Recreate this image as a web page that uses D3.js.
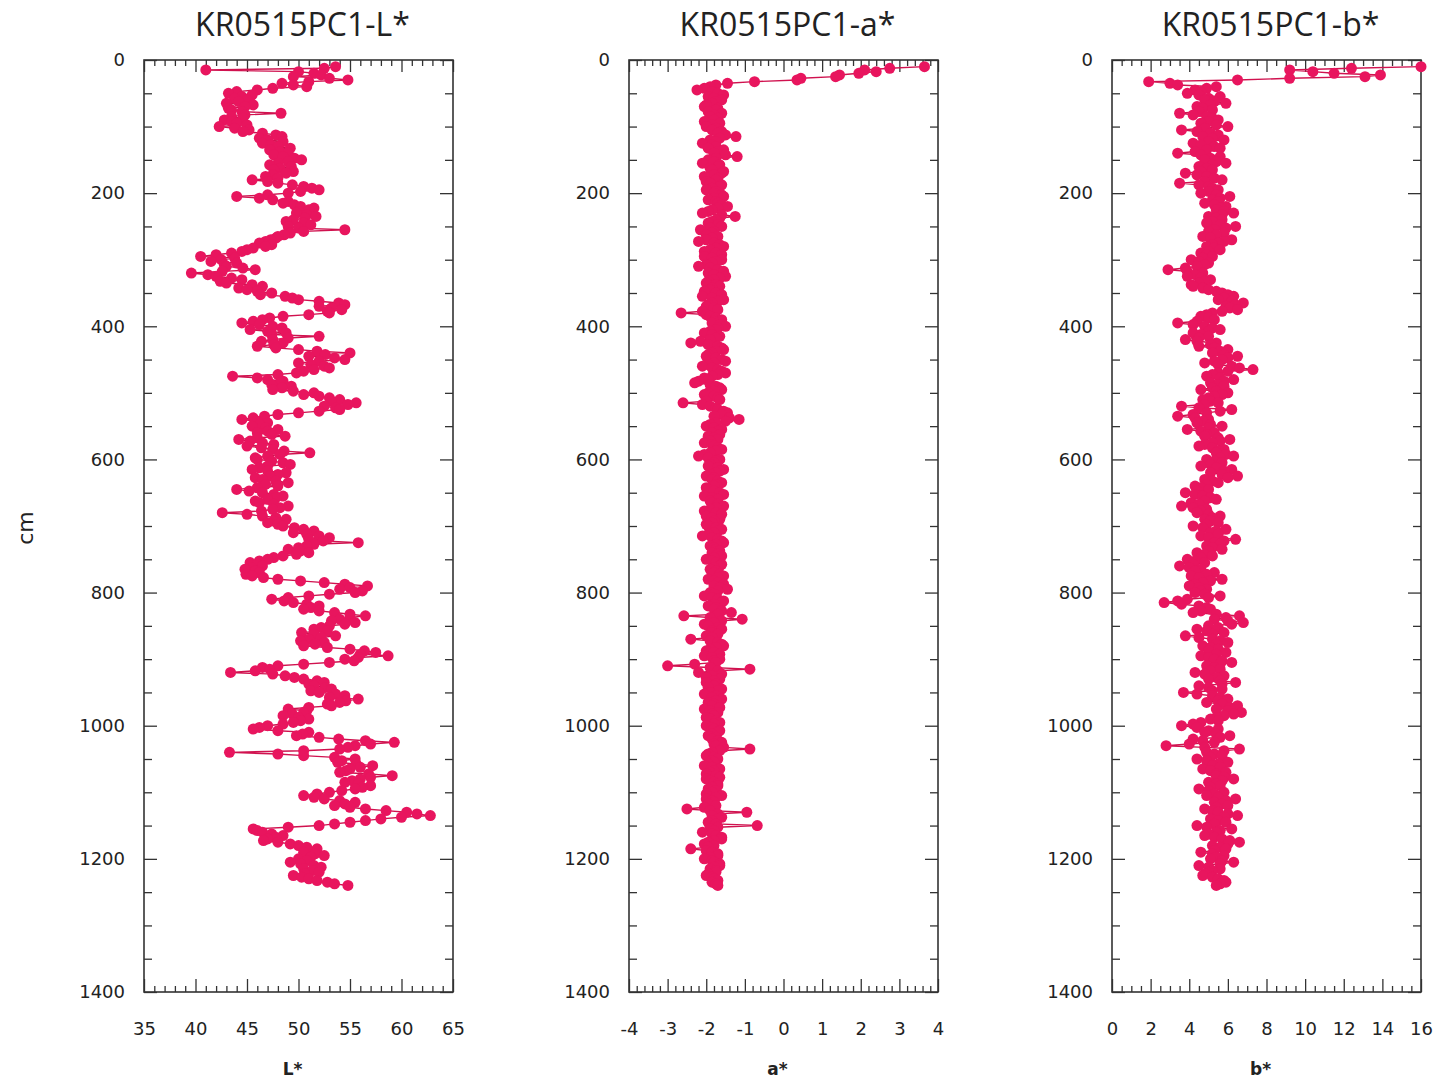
<!DOCTYPE html>
<html>
<head>
<meta charset="utf-8">
<script src="https://cdn.jsdelivr.net/npm/d3@7"></script>
<style>
  body { margin: 0; background: #fff; }
  svg { display: block; }
</style>
</head>
<body>
<svg id="chart" width="1441" height="1080"></svg>
<script>
// Core KR0515PC1: sample depths (cm, 2.5 cm spacing) and colour reflectance (CIE L*, a*, b*)
const depthCm = [
  10, 12.5, 15, 17.5, 20, 22.5, 25, 27.5, 30, 32.5, 35, 37.5, 40, 42.5, 45, 47.5, 50, 52.5, 55, 57.5,
  60, 62.5, 65, 67.5, 70, 72.5, 75, 77.5, 80, 82.5, 85, 87.5, 90, 92.5, 95, 97.5, 100, 102.5, 105, 107.5,
  110, 112.5, 115, 117.5, 120, 122.5, 125, 127.5, 130, 132.5, 135, 137.5, 140, 142.5, 145, 147.5, 150, 152.5, 155, 157.5,
  160, 162.5, 165, 167.5, 170, 172.5, 175, 177.5, 180, 182.5, 185, 187.5, 190, 192.5, 195, 197.5, 200, 202.5, 205, 207.5,
  210, 212.5, 215, 217.5, 220, 222.5, 225, 227.5, 230, 232.5, 235, 237.5, 240, 242.5, 245, 247.5, 250, 252.5, 255, 257.5,
  260, 262.5, 265, 267.5, 270, 272.5, 275, 277.5, 280, 282.5, 285, 287.5, 290, 292.5, 295, 297.5, 300, 302.5, 305, 307.5,
  310, 312.5, 315, 317.5, 320, 322.5, 325, 327.5, 330, 332.5, 335, 337.5, 340, 342.5, 345, 347.5, 350, 352.5, 355, 357.5,
  360, 362.5, 365, 367.5, 370, 372.5, 375, 377.5, 380, 382.5, 385, 387.5, 390, 392.5, 395, 397.5, 400, 402.5, 405, 407.5,
  410, 412.5, 415, 417.5, 420, 422.5, 425, 427.5, 430, 432.5, 435, 437.5, 440, 442.5, 445, 447.5, 450, 452.5, 455, 457.5,
  460, 462.5, 465, 467.5, 470, 472.5, 475, 477.5, 480, 482.5, 485, 487.5, 490, 492.5, 495, 497.5, 500, 502.5, 505, 507.5,
  510, 512.5, 515, 517.5, 520, 522.5, 525, 527.5, 530, 532.5, 535, 537.5, 540, 542.5, 545, 547.5, 550, 552.5, 555, 557.5,
  560, 562.5, 565, 567.5, 570, 572.5, 575, 577.5, 580, 582.5, 585, 587.5, 590, 592.5, 595, 597.5, 600, 602.5, 605, 607.5,
  610, 612.5, 615, 617.5, 620, 622.5, 625, 627.5, 630, 632.5, 635, 637.5, 640, 642.5, 645, 647.5, 650, 652.5, 655, 657.5,
  660, 662.5, 665, 667.5, 670, 672.5, 675, 677.5, 680, 682.5, 685, 687.5, 690, 692.5, 695, 697.5, 700, 702.5, 705, 707.5,
  710, 712.5, 715, 717.5, 720, 722.5, 725, 727.5, 730, 732.5, 735, 737.5, 740, 742.5, 745, 747.5, 750, 752.5, 755, 757.5,
  760, 762.5, 765, 767.5, 770, 772.5, 775, 777.5, 780, 782.5, 785, 787.5, 790, 792.5, 795, 797.5, 800, 802.5, 805, 807.5,
  810, 812.5, 815, 817.5, 820, 822.5, 825, 827.5, 830, 832.5, 835, 837.5, 840, 842.5, 845, 847.5, 850, 852.5, 855, 857.5,
  860, 862.5, 865, 867.5, 870, 872.5, 875, 877.5, 880, 882.5, 885, 887.5, 890, 892.5, 895, 897.5, 900, 902.5, 905, 907.5,
  910, 912.5, 915, 917.5, 920, 922.5, 925, 927.5, 930, 932.5, 935, 937.5, 940, 942.5, 945, 947.5, 950, 952.5, 955, 957.5,
  960, 962.5, 965, 967.5, 970, 972.5, 975, 977.5, 980, 982.5, 985, 987.5, 990, 992.5, 995, 997.5, 1000, 1002.5, 1005, 1007.5,
  1010, 1012.5, 1015, 1017.5, 1020, 1022.5, 1025, 1027.5, 1030, 1032.5, 1035, 1037.5, 1040, 1042.5, 1045, 1047.5, 1050, 1052.5, 1055, 1057.5,
  1060, 1062.5, 1065, 1067.5, 1070, 1072.5, 1075, 1077.5, 1080, 1082.5, 1085, 1087.5, 1090, 1092.5, 1095, 1097.5, 1100, 1102.5, 1105, 1107.5,
  1110, 1112.5, 1115, 1117.5, 1120, 1122.5, 1125, 1127.5, 1130, 1132.5, 1135, 1137.5, 1140, 1142.5, 1145, 1147.5, 1150, 1152.5, 1155, 1157.5,
  1160, 1162.5, 1165, 1167.5, 1170, 1172.5, 1175, 1177.5, 1180, 1182.5, 1185, 1187.5, 1190, 1192.5, 1195, 1197.5, 1200, 1202.5, 1205, 1207.5,
  1210, 1212.5, 1215, 1217.5, 1220, 1222.5, 1225, 1227.5, 1230, 1232.5, 1235, 1237.5, 1240
];

const lightness = [
  53.6, 52.5, 41.0, 50.0, 51.5, 52.2, 49.5, 53.0, 54.8, 51.0, 48.4, 49.5, 50.8, 47.5, 46.0, 44.0, 43.2, 45.5, 44.5, 43.8,
  45.0, 44.2, 43.0, 45.6, 44.8, 43.2, 43.5, 44.5, 48.3, 44.8, 43.5, 44.6, 42.8, 43.5, 44.0, 45.0, 42.3, 43.8, 45.2, 44.6,
  46.5, 47.8, 48.4, 46.2, 47.0, 48.5, 46.5, 47.3, 48.0, 49.2, 47.2, 48.2, 49.0, 47.6, 48.5, 49.6, 50.3, 49.0, 48.0, 47.2,
  49.3, 48.2, 47.6, 49.5, 48.8, 47.5, 46.8, 48.0, 45.5, 47.0, 48.0, 49.4, 50.5, 51.3, 52.0, 50.2, 49.0, 47.0, 44.0, 46.2,
  47.5, 49.0, 48.5, 49.6, 50.2, 51.5, 51.0, 50.0, 49.8, 50.8, 51.7, 50.6, 49.5, 48.8, 50.5, 51.2, 49.0, 50.0, 54.5, 50.5,
  49.2, 48.6, 48.0, 47.8, 47.3, 46.8, 46.2, 47.4, 46.8, 45.6, 45.0, 44.5, 43.5, 42.0, 40.5, 43.8, 42.5, 41.5, 44.0, 42.8,
  43.0, 44.6, 45.8, 42.6, 39.6, 41.2, 42.0, 43.5, 44.5, 42.4, 43.0, 45.5, 46.5, 44.2, 45.0, 46.0, 47.4, 46.3, 48.7, 49.4,
  50.0, 52.0, 53.9, 54.5, 52.0, 53.2, 54.2, 52.8, 53.0, 51.0, 48.5, 47.2, 46.5, 45.6, 44.5, 46.2, 47.5, 48.4, 45.3, 47.0,
  48.8, 47.4, 52.0, 49.0, 47.5, 46.4, 48.5, 47.6, 46.0, 47.8, 50.0, 51.8, 55.0, 52.6, 51.0, 53.5, 54.5, 52.0, 50.0, 51.2,
  52.5, 53.0, 51.5, 50.5, 49.8, 48.0, 43.6, 46.0, 47.0, 48.5, 48.2, 47.4, 49.3, 48.4, 47.5, 49.5, 51.5, 50.5, 52.0, 53.0,
  54.0, 53.2, 55.6, 54.8, 52.5, 53.6, 54.0, 52.0, 50.0, 48.0, 46.7, 45.6, 44.5, 46.0, 47.0, 46.2, 45.5, 46.8, 48.0, 47.0,
  46.0, 47.4, 48.7, 46.0, 44.2, 45.3, 46.5, 47.6, 45.0, 46.4, 47.5, 48.6, 51.1, 48.2, 47.0, 45.8, 46.0, 47.4, 48.5, 49.2,
  47.0, 46.2, 45.5, 47.0, 48.8, 48.0, 47.2, 45.8, 46.5, 47.8, 49.0, 46.8, 48.0, 46.0, 44.0, 45.2, 46.5, 47.6, 48.5, 47.8,
  47.0, 45.8, 46.2, 47.6, 49.0, 48.2, 47.5, 46.4, 42.6, 45.0, 46.5, 47.8, 48.8, 47.6, 47.0, 48.0, 48.5, 49.6, 50.5, 51.5,
  49.5, 50.8, 52.0, 53.0, 51.0, 52.4, 55.8, 51.5, 50.8, 50.0, 49.0, 50.2, 51.0, 49.8, 48.5, 47.6, 47.0, 46.2, 45.3, 46.0,
  46.5, 45.4, 44.8, 45.8, 46.2, 44.9, 45.5, 46.6, 48.0, 50.2, 52.5, 54.5, 56.7, 55.0, 54.0, 56.2, 55.5, 53.0, 51.0, 49.0,
  47.4, 48.6, 49.5, 50.8, 52.0, 51.2, 50.5, 52.0, 53.5, 55.0, 56.5, 55.0, 54.0, 53.2, 55.5, 54.5, 53.0, 52.2, 51.5, 52.8,
  50.3, 51.5, 53.6, 52.2, 51.0, 50.2, 52.5, 51.6, 50.5, 52.8, 55.0, 56.4, 57.5, 56.0, 58.7, 55.8, 54.5, 55.4, 53.0, 50.5,
  48.0, 46.5, 47.2, 45.8, 43.4, 47.5, 48.7, 49.6, 50.5, 51.8, 52.5, 51.0, 51.5, 52.6, 53.2, 51.2, 52.0, 53.6, 54.5, 53.0,
  55.8, 54.6, 54.0, 52.8, 53.2, 51.0, 49.0, 50.8, 50.5, 49.4, 48.5, 50.0, 51.0, 50.2, 49.5, 48.5, 47.0, 46.2, 45.6, 48.0,
  51.0, 50.4, 49.8, 52.0, 53.9, 56.5, 59.3, 57.0, 55.5, 54.8, 54.0, 50.5, 43.3, 48.0, 50.5, 53.5, 55.5, 54.2, 53.8, 55.6,
  57.2, 56.0, 55.0, 54.6, 54.0, 56.8, 59.1, 57.0, 56.0, 55.2, 54.5, 55.8, 57.0, 56.2, 55.5, 54.2, 53.0, 51.8, 50.5, 51.5,
  52.5, 54.0, 55.5, 54.5, 53.5, 55.0, 56.5, 58.5, 60.5, 61.5, 62.8, 60.0, 58.0, 56.5, 55.0, 53.5, 52.0, 49.0, 45.6, 46.0,
  46.5, 47.4, 48.5, 47.8, 47.0, 46.6, 48.0, 49.2, 50.0, 50.8, 51.8, 51.0, 50.5, 51.6, 52.5, 51.2, 50.0, 50.8, 49.2, 50.2,
  51.5, 52.2, 50.5, 51.4, 52.0, 50.6, 49.5, 50.3, 51.0, 51.8, 52.8, 53.5, 54.8
];

const redGreen = [
  3.65, 2.75, 2.10, 2.40, 1.95, 1.45, 1.35, 0.45, 0.35, -0.75, -1.45, -1.75, -1.90, -2.05, -2.24, -1.85, -1.70, -1.55, -1.95, -1.80,
  -1.60, -1.75, -1.85, -2.00, -2.05, -1.70, -1.75, -1.95, -1.60, -1.80, -1.90, -1.70, -1.80, -2.05, -1.65, -1.85, -2.00, -1.75, -1.85, -1.60,
  -1.70, -1.50, -1.23, -1.65, -1.90, -1.75, -2.10, -1.85, -1.75, -1.95, -1.55, -1.70, -1.80, -1.50, -1.20, -1.75, -1.95, -1.80, -2.10, -1.65,
  -1.70, -1.90, -1.85, -1.55, -1.60, -1.80, -2.05, -1.70, -1.75, -2.00, -1.90, -1.60, -1.65, -1.85, -2.00, -1.75, -1.80, -1.60, -1.55, -1.80,
  -1.95, -1.75, -1.70, -1.60, -1.45, -1.70, -1.85, -1.95, -2.10, -1.60, -1.25, -1.65, -1.75, -1.85, -1.95, -1.70, -1.60, -1.90, -2.15, -1.80,
  -1.85, -2.00, -1.70, -1.85, -2.00, -2.20, -1.80, -1.65, -1.55, -1.75, -1.90, -2.05, -1.75, -1.60, -2.05, -1.85, -1.60, -1.75, -1.85, -2.00,
  -2.20, -1.90, -1.70, -1.55, -1.95, -1.80, -1.50, -1.65, -1.80, -1.95, -2.00, -1.75, -1.65, -1.85, -1.90, -2.05, -1.75, -1.60, -2.10, -1.85,
  -1.55, -1.70, -1.85, -1.95, -2.00, -1.80, -1.70, -2.10, -2.65, -2.00, -1.90, -1.75, -1.60, -1.80, -1.85, -1.65, -1.50, -1.70, -1.75, -1.90,
  -2.05, -1.85, -1.65, -1.75, -1.90, -2.15, -2.40, -1.95, -1.70, -1.60, -1.55, -1.75, -1.85, -1.95, -2.00, -1.75, -1.60, -1.50, -1.80, -1.95,
  -2.10, -1.85, -1.70, -1.60, -1.50, -1.70, -1.85, -2.05, -1.95, -2.20, -2.30, -1.90, -1.75, -1.65, -1.60, -1.80, -1.95, -2.05, -1.80, -1.70,
  -1.65, -2.00, -2.60, -2.10, -1.90, -1.75, -1.70, -1.55, -1.45, -1.60, -1.80, -1.40, -1.15, -1.50, -1.75, -1.90, -2.00, -1.80, -1.60, -1.70,
  -1.85, -1.65, -1.95, -1.80, -1.70, -1.90, -2.05, -1.85, -1.80, -1.70, -1.60, -1.75, -1.90, -2.05, -2.20, -1.95, -1.65, -1.75, -1.80, -1.90,
  -1.95, -1.70, -1.55, -1.65, -1.75, -1.90, -2.00, -1.80, -1.85, -1.70, -1.60, -1.75, -1.80, -2.00, -1.95, -1.80, -1.65, -1.55, -2.05, -1.85,
  -1.70, -1.90, -1.85, -1.70, -1.55, -1.75, -1.90, -2.05, -1.75, -1.60, -2.00, -1.85, -1.65, -1.80, -1.85, -2.00, -1.95, -1.75, -1.60, -1.70,
  -1.80, -1.95, -2.10, -1.85, -1.70, -1.60, -1.55, -1.75, -1.90, -1.80, -1.75, -1.65, -1.85, -1.70, -1.60, -1.80, -2.00, -1.85, -1.75, -1.60,
  -1.65, -1.80, -1.90, -1.75, -1.80, -1.65, -1.55, -1.70, -1.95, -1.80, -1.70, -1.55, -1.80, -1.65, -1.45, -1.70, -1.90, -1.80, -2.05, -1.85,
  -1.70, -1.55, -1.60, -1.80, -1.95, -1.75, -1.80, -1.60, -1.35, -1.70, -2.58, -1.90, -1.07, -1.60, -1.80, -2.05, -1.95, -1.70, -1.60, -1.85,
  -1.85, -1.70, -2.00, -1.85, -2.40, -1.90, -1.70, -1.60, -1.55, -1.75, -1.90, -2.00, -1.80, -1.65, -2.05, -1.85, -1.65, -1.80, -1.75, -2.30,
  -3.00, -1.90, -0.87, -1.70, -2.20, -1.60, -1.85, -2.00, -1.65, -1.80, -2.00, -1.75, -1.80, -1.95, -1.60, -1.70, -1.90, -2.05, -1.75, -1.85,
  -1.60, -1.75, -1.95, -1.80, -1.85, -1.65, -2.05, -1.90, -1.70, -1.85, -1.80, -2.00, -1.90, -1.75, -1.65, -1.80, -2.00, -1.85, -1.80, -1.65,
  -1.70, -1.85, -1.95, -1.75, -1.85, -1.70, -1.60, -1.80, -1.75, -1.55, -0.87, -1.65, -1.85, -1.95, -2.00, -1.80, -1.70, -1.85, -1.80, -1.95,
  -2.05, -1.85, -1.65, -1.80, -1.90, -2.00, -1.75, -1.65, -2.00, -1.90, -1.80, -1.70, -1.70, -1.85, -1.95, -1.75, -1.85, -2.00, -1.60, -1.75,
  -2.00, -1.85, -1.80, -1.95, -1.75, -2.05, -2.50, -1.90, -0.95, -1.70, -1.85, -1.60, -1.70, -1.85, -1.95, -1.75, -0.68, -1.70, -1.90, -1.80,
  -2.10, -1.85, -1.75, -1.60, -1.60, -1.80, -1.95, -2.05, -1.80, -1.95, -2.40, -2.00, -1.85, -1.70, -1.70, -1.90, -2.05, -1.85, -1.80, -1.65,
  -1.65, -1.80, -1.90, -1.75, -1.75, -1.95, -2.00, -1.85, -1.80, -1.70, -1.85, -1.75, -1.70
];

const yellowBlue = [
  16.0, 12.4, 9.2, 10.4, 11.5, 13.9, 13.1, 9.2, 6.5, 1.9, 3.0, 3.4, 5.4, 4.9, 4.3, 4.6, 3.9, 4.5, 5.6, 5.0,
  4.8, 5.3, 5.9, 5.1, 4.4, 4.7, 5.2, 4.5, 3.5, 4.2, 4.9, 5.2, 5.5, 5.0, 4.6, 5.4, 6.0, 4.8, 3.6, 4.4,
  5.1, 5.5, 4.7, 5.2, 5.8, 5.0, 4.2, 4.6, 5.3, 5.6, 4.9, 4.3, 3.4, 4.6, 5.6, 5.1, 4.8, 5.4, 5.9, 5.2,
  4.5, 4.9, 5.2, 4.6, 3.8, 4.4, 4.9, 5.3, 5.7, 4.8, 3.5, 4.5, 5.0, 5.2, 5.5, 5.0, 4.6, 5.4, 6.1, 5.6,
  5.2, 5.5, 4.8, 5.3, 5.9, 5.6, 5.4, 5.8, 6.3, 5.7, 5.0, 5.4, 5.7, 5.2, 4.9, 5.6, 6.4, 5.9, 5.3, 5.0,
  5.8, 5.4, 4.7, 5.1, 6.2, 5.8, 5.5, 5.2, 4.9, 5.3, 5.6, 5.0, 4.6, 4.9, 5.2, 4.7, 4.1, 4.5, 5.0, 4.8,
  4.4, 3.8, 2.9, 3.9, 4.7, 4.3, 3.9, 4.6, 5.1, 4.8, 4.5, 4.1, 4.2, 4.7, 5.0, 5.4, 5.7, 6.0, 6.3, 5.8,
  5.5, 6.2, 6.8, 6.4, 5.9, 6.1, 6.5, 5.7, 5.2, 4.9, 4.6, 5.0, 5.3, 4.4, 3.4, 4.2, 4.8, 5.2, 5.6, 5.0,
  4.2, 4.6, 5.0, 4.5, 3.8, 4.4, 5.4, 5.1, 4.5, 5.3, 6.0, 5.6, 5.2, 5.8, 6.5, 6.0, 5.7, 5.3, 4.8, 5.5,
  6.2, 6.6, 7.3, 6.0, 5.5, 5.2, 4.9, 5.6, 6.3, 5.8, 5.1, 5.5, 5.8, 5.2, 4.6, 5.4, 6.0, 5.7, 5.3, 5.0,
  4.7, 5.1, 5.5, 4.8, 3.6, 4.5, 6.2, 5.6, 4.9, 4.2, 3.4, 4.3, 5.0, 4.7, 4.4, 5.1, 5.7, 5.0, 3.9, 4.6,
  5.3, 4.9, 4.8, 5.5, 6.1, 5.6, 5.2, 4.8, 4.5, 5.2, 5.8, 5.5, 5.4, 5.9, 6.3, 5.6, 4.9, 5.3, 5.7, 5.1,
  4.6, 5.4, 6.2, 5.8, 5.1, 5.7, 6.5, 6.0, 4.8, 5.2, 5.5, 4.9, 4.3, 4.6, 5.0, 4.4, 3.8, 4.3, 4.7, 5.1,
  5.4, 4.8, 4.1, 4.5, 3.6, 4.2, 4.9, 4.6, 4.4, 5.0, 5.6, 5.2, 4.8, 5.1, 5.5, 4.9, 4.2, 4.7, 5.9, 5.4,
  5.1, 5.5, 4.6, 5.0, 6.4, 5.8, 5.3, 5.6, 4.9, 5.2, 5.7, 5.0, 4.4, 4.8, 5.2, 4.6, 3.9, 4.3, 4.8, 4.2,
  3.5, 4.0, 4.6, 4.3, 5.3, 4.9, 4.1, 4.5, 5.7, 5.1, 4.7, 4.3, 4.0, 4.5, 4.9, 4.6, 4.3, 4.8, 5.6, 5.0,
  3.9, 3.4, 2.7, 3.6, 4.5, 4.9, 5.1, 4.6, 4.2, 5.4, 6.6, 5.9, 5.3, 6.0, 6.8, 6.2, 5.0, 5.5, 4.4, 4.9,
  5.8, 5.2, 3.8, 4.5, 5.2, 5.6, 6.0, 5.4, 4.7, 5.1, 5.5, 5.0, 5.9, 5.4, 4.6, 5.0, 5.3, 5.7, 6.2, 5.6,
  4.9, 5.3, 5.6, 5.1, 4.3, 4.8, 5.8, 5.4, 5.0, 5.6, 6.4, 5.7, 4.5, 5.0, 5.7, 5.2, 3.7, 4.4, 5.2, 5.6,
  6.0, 5.5, 4.9, 5.7, 6.5, 6.1, 5.4, 6.0, 6.7, 6.3, 5.8, 5.4, 5.1, 5.5, 4.6, 4.2, 3.6, 4.4, 5.5, 5.0,
  4.8, 5.4, 6.1, 5.6, 4.2, 4.7, 5.3, 4.0, 2.8, 4.8, 6.6, 5.8, 4.9, 5.3, 5.7, 5.1, 4.4, 4.9, 6.0, 5.5,
  5.2, 5.6, 4.7, 5.1, 5.9, 5.4, 5.4, 5.8, 6.3, 5.7, 5.0, 5.4, 5.6, 5.1, 4.5, 5.0, 5.8, 5.3, 4.9, 5.5,
  6.4, 5.9, 5.3, 5.7, 6.0, 5.4, 4.8, 5.2, 5.5, 6.0, 6.5, 5.8, 5.1, 5.5, 5.9, 5.3, 4.4, 4.9, 6.2, 5.6,
  5.4, 5.0, 4.8, 5.3, 5.7, 6.1, 6.6, 6.0, 5.2, 5.6, 5.9, 5.3, 4.6, 5.2, 5.8, 5.4, 5.1, 5.7, 6.3, 5.6,
  4.5, 5.0, 5.6, 5.2, 5.0, 4.8, 4.7, 5.2, 5.5, 5.8, 5.9, 5.6, 5.4
];

const panelTitles = ["KR0515PC1-L*", "KR0515PC1-a*", "KR0515PC1-b*"];
const axisTitles = ["L*", "a*", "b*"];
const xDomains = [[35, 65], [-4, 4], [0, 16]];
const xMajorTicks = [
  [35, 40, 45, 50, 55, 60, 65],
  [-4, -3, -2, -1, 0, 1, 2, 3, 4],
  [0, 2, 4, 6, 8, 10, 12, 14, 16]
];
const xMinorSteps = [1, 0.2, 0.5];
const depthMajorTicks = [0, 200, 400, 600, 800, 1000, 1200, 1400];
const depthMinorStep = 50;
const depthDomain = [0, 1400];
const depthAxisTitle = "cm";

// Layout
const panelLefts = [144, 629, 1112];
const panelWidth = 309;
const plotTop = 60, plotHeight = 932;
const ink = "#222";
const markColor = "#E8155E";
const lineColor = "#D0124F";

const svg = d3.select("#chart");
svg.append("rect").attr("width", 1441).attr("height", 1080).attr("fill", "#fff");

const y = d3.scaleLinear().domain(depthDomain).range([0, plotHeight]);
const depthMinor = d3.range(depthDomain[0], depthDomain[1] + 1, depthMinorStep)
  .filter(v => !depthMajorTicks.includes(v));
const plainNumber = d => String(d);   // ASCII hyphen for negatives

const seriesList = [lightness, redGreen, yellowBlue];
const n = Math.min(depthCm.length, lightness.length, redGreen.length, yellowBlue.length);

seriesList.forEach((values, i) => {
  const g = svg.append("g").attr("transform", `translate(${panelLefts[i]},${plotTop})`);
  const x = d3.scaleLinear().domain(xDomains[i]).range([0, panelWidth]);
  const step = xMinorSteps[i];
  const [x0, x1] = xDomains[i];
  const xMinor = d3.range(Math.round((x1 - x0) / step) + 1)
    .map(k => +(x0 + k * step).toFixed(3))
    .filter(v => !xMajorTicks[i].some(m => Math.abs(m - v) < 1e-6));

  const addAxis = (axis, tf) => {
    const a = g.append("g").attr("transform", tf).call(axis);
    a.select(".domain").remove();
    a.selectAll(".tick line").attr("stroke", "#333").attr("stroke-width", 1.3);
    return a;
  };
  // minor ticks on all four sides, pointing inward
  addAxis(d3.axisBottom(x).tickValues(xMinor).tickSize(-6).tickFormat(""), `translate(0,${plotHeight})`);
  addAxis(d3.axisTop(x).tickValues(xMinor).tickSize(-6).tickFormat(""), "translate(0,0)");
  addAxis(d3.axisLeft(y).tickValues(depthMinor).tickSize(-8).tickFormat(""), "translate(0,0)");
  addAxis(d3.axisRight(y).tickValues(depthMinor).tickSize(-8).tickFormat(""), `translate(${panelWidth},0)`);

  // major ticks, labelled on the bottom and left
  const bottom = addAxis(d3.axisBottom(x).tickValues(xMajorTicks[i]).tickSize(-13).tickPadding(30)
    .tickFormat(plainNumber), `translate(0,${plotHeight})`);
  addAxis(d3.axisTop(x).tickValues(xMajorTicks[i]).tickSize(-12).tickFormat(""), "translate(0,0)");
  const left = addAxis(d3.axisLeft(y).tickValues(depthMajorTicks).tickSize(-13).tickPadding(19)
    .tickFormat(plainNumber), "translate(0,0)");
  addAxis(d3.axisRight(y).tickValues(depthMajorTicks).tickSize(-13).tickFormat(""), `translate(${panelWidth},0)`);

  [bottom, left].forEach(a => a.selectAll(".tick text")
    .attr("fill", ink)
    .style("font-family", "'DejaVu Sans', sans-serif")
    .style("font-size", "18px"));

  // frame
  g.append("rect").attr("width", panelWidth).attr("height", plotHeight)
    .attr("fill", "none").attr("stroke", "#333").attr("stroke-width", 1.6);

  // depth profile: connecting line, then sample markers
  const pts = d3.range(n).map(k => ({ d: depthCm[k], v: values[k] }));
  g.append("path").datum(pts)
    .attr("fill", "none").attr("stroke", lineColor).attr("stroke-width", 1.4)
    .attr("d", d3.line().x(p => x(p.v)).y(p => y(p.d)));
  g.append("g").selectAll("circle").data(pts).join("circle")
    .attr("cx", p => x(p.v)).attr("cy", p => y(p.d)).attr("r", 5.5)
    .attr("fill", markColor);

  // panel title and axis title
  svg.append("text")
    .attr("x", panelLefts[i] + panelWidth / 2 + 4).attr("y", 36)
    .attr("text-anchor", "middle").attr("fill", ink)
    .style("font-family", "'Open Sans', sans-serif").style("font-size", "32px")
    .text(panelTitles[i]);
  svg.append("text")
    .attr("x", panelLefts[i] + panelWidth / 2 - 6).attr("y", 1075)
    .attr("text-anchor", "middle").attr("fill", ink)
    .style("font-family", "'DejaVu Sans', sans-serif").style("font-size", "17px")
    .style("font-weight", "bold")
    .text(axisTitles[i]);
});

svg.append("text")
  .attr("transform", "translate(33,528) rotate(-90)")
  .attr("text-anchor", "middle").attr("fill", ink)
  .style("font-family", "'DejaVu Sans', sans-serif").style("font-size", "22px")
  .text(depthAxisTitle);
</script>
</body>
</html>
